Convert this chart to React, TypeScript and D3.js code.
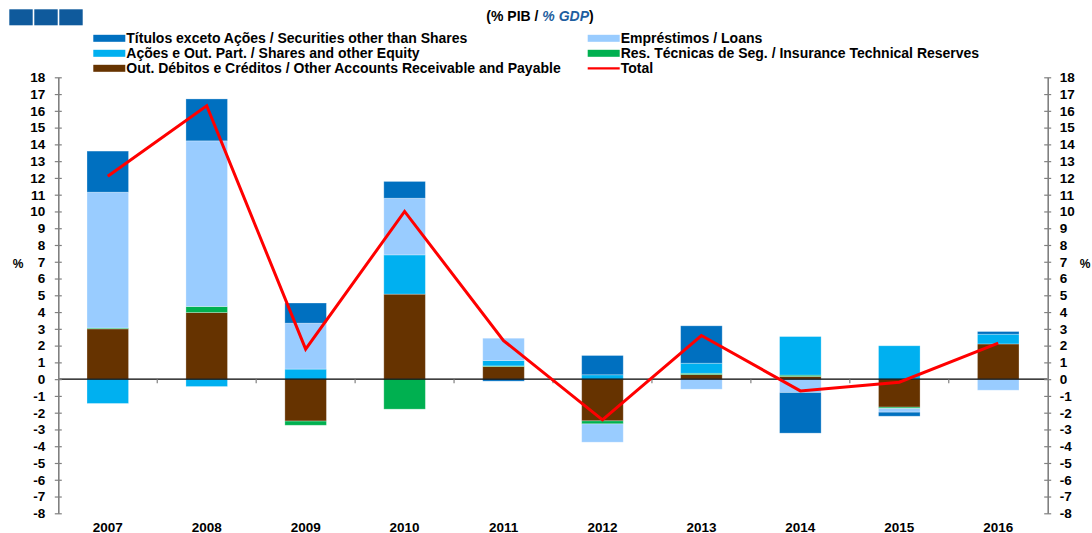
import * as d3 from "d3";
import {useEffect, useRef} from "react";

// values in % of GDP
const years = ["2007", "2008", "2009", "2010", "2011", "2012", "2013", "2014", "2015", "2016"];
const securities = [2.45, 2.5, 1.2, 1.0, -0.12, 1.15, 2.23, -2.42, -0.24, 0.16];
const loans = [8.1, 9.88, 2.74, 3.38, 1.33, -1.09, -0.6, -0.8, -0.22, -0.66];
const shares = [-1.45, -0.44, 0.6, 2.34, 0.32, 0.26, 0.6, 2.3, 1.99, 0.58];
const insurance = [0.05, 0.36, -0.25, -1.79, 0.04, -0.18, 0.08, 0.08, -0.08, 0.0];
const otherAccounts = [3.0, 3.97, -2.5, 5.07, 0.75, -2.49, 0.27, 0.16, -1.67, 2.1];
const total = [12.1, 16.3, 1.79, 10.0, 2.3, -2.43, 2.6, -0.7, -0.18, 2.15];

const yTicks = d3.range(-8, 19);

const seriesInfo = [
    {key: "other", label: "Out. Débitos e Créditos / Other Accounts Receivable and Payable", color: "#663300", values: otherAccounts},
    {key: "insurance", label: "Res. Técnicas de Seg. / Insurance Technical Reserves", color: "#00B050", values: insurance},
    {key: "shares", label: "Ações e Out. Part. / Shares and other Equity", color: "#00B0F0", values: shares},
    {key: "loans", label: "Empréstimos / Loans", color: "#99CCFF", values: loans},
    {key: "securities", label: "Títulos exceto Ações / Securities other than Shares", color: "#0070C0", values: securities},
];

// legend layout: two columns, three rows
const legendOrder = [
    ["securities", "loans"],
    ["shares", "insurance"],
    ["other", "total"],
];

const FONT = "'Liberation Sans', Arial, sans-serif";

const App = () => {
    const chartRef = useRef(null);

    const width = 1092;
    const height = 533;
    const margin = {left: 58.3, right: 1092 - 1047.7, top: 77.3, bottom: 533 - 513.3};

    useEffect(() => {
        const svg = d3.select(chartRef.current);
        svg.selectAll("*").remove();

        const scaleX = d3.scaleBand()
            .domain(years)
            .range([margin.left, width - margin.right])
            .padding(0);

        const scaleY = d3.scaleLinear()
            .domain([-8, 18])
            .range([height - margin.bottom, margin.top]);

        const table = years.map((y, i) => {
            const row: any = {year: y};
            seriesInfo.forEach(s => row[s.key] = s.values[i]);
            return row;
        });

        const stacked = d3.stack()
            .keys(seriesInfo.map(s => s.key))
            .offset(d3.stackOffsetDiverging)(table);

        const barW = scaleX.bandwidth() * 0.42;

        // header squares
        const squares = svg.append("g");
        [0, 1, 2].forEach(i => {
            squares.append("rect")
                .attr("x", 9.3 + i * 25)
                .attr("y", 9.3)
                .attr("width", 23.4)
                .attr("height", 16)
                .style("fill", "#0F5A9C");
        });

        const title = svg.append("text")
            .attr("x", 540)
            .attr("y", 20.5)
            .attr("text-anchor", "middle")
            .style("font-family", FONT)
            .style("font-weight", "bold")
            .style("font-size", "14px");
        title.append("tspan").text("(% PIB / ");
        title.append("tspan").text("% GDP").style("fill", "#1F5FA0").style("font-style", "italic");
        title.append("tspan").text(")");

        // bars
        stacked.forEach((layer, li) => {
            svg.append("g")
                .selectAll("rect")
                .data(layer)
                .enter()
                .append("rect")
                .attr("x", (d: any) => scaleX(d.data.year) + (scaleX.bandwidth() - barW) / 2)
                .attr("y", d => scaleY(Math.max(d[0], d[1])))
                .attr("width", barW)
                .attr("height", d => Math.abs(scaleY(d[0]) - scaleY(d[1])))
                .style("fill", seriesInfo[li].color)
                .style("stroke", "#ffffff")
                .style("stroke-opacity", 0.35)
                .style("stroke-width", 0.8);
        });

        // zero line
        svg.append("line")
            .attr("x1", margin.left)
            .attr("x2", width - margin.right)
            .attr("y1", scaleY(0))
            .attr("y2", scaleY(0))
            .style("stroke", "#000")
            .style("stroke-width", 1.3);

        // category ticks along zero line
        svg.append("g")
            .selectAll("line")
            .data(years.slice(1))
            .enter()
            .append("line")
            .attr("x1", d => scaleX(d))
            .attr("x2", d => scaleX(d))
            .attr("y1", scaleY(0))
            .attr("y2", scaleY(0) + 4)
            .style("stroke", "#808080")
            .style("stroke-width", 1.2);

        // category labels
        svg.append("g")
            .selectAll("text")
            .data(years)
            .enter()
            .append("text")
            .attr("x", d => scaleX(d) + scaleX.bandwidth() / 2)
            .attr("y", 531.5)
            .attr("text-anchor", "middle")
            .style("font-family", FONT)
            .style("font-weight", "bold")
            .style("font-size", "13.5px")
            .text(d => d);

        // y axes
        const styleAxis = (g, side) => {
            g.select(".domain").style("stroke", "#808080").style("stroke-width", 1.6);
            g.selectAll(".tick line")
                .attr("x1", -3.5)
                .attr("x2", 3.5)
                .style("stroke", "#808080")
                .style("stroke-width", 1.2);
            g.selectAll(".tick text")
                .style("font-family", FONT)
                .style("font-weight", "bold")
                .style("font-size", "13.5px")
                .style("fill", "#000")
                .attr("x", side === "left" ? -13 : 12);
        };

        const yLeft = d3.axisLeft(scaleY).tickValues(yTicks).tickSizeOuter(0).tickFormat(d => String(d));
        svg.append("g")
            .attr("transform", `translate(${margin.left}, 0)`)
            .call(yLeft)
            .call(g => styleAxis(g, "left"));

        const yRight = d3.axisRight(scaleY).tickValues(yTicks).tickSizeOuter(0).tickFormat(d => String(d));
        svg.append("g")
            .attr("transform", `translate(${width - margin.right}, 0)`)
            .call(yRight)
            .call(g => styleAxis(g, "right"));

        // % labels
        [18, 1085].forEach(x => {
            svg.append("text")
                .attr("x", x)
                .attr("y", 268)
                .attr("text-anchor", "middle")
                .style("font-family", FONT)
                .style("font-weight", "bold")
                .style("font-size", "12px")
                .text("%");
        });

        // total line
        const line = d3.line<number>()
            .x((d, i) => scaleX(years[i]) + scaleX.bandwidth() / 2)
            .y(d => scaleY(d));

        svg.append("path")
            .datum(total)
            .attr("d", line)
            .style("fill", "none")
            .style("stroke", "#FF0000")
            .style("stroke-width", 3)
            .style("stroke-linejoin", "miter");

        // legend
        const colX = [93.3, 587.7];
        const rowY = [38.3, 53.3, 68.3];
        const legend = svg.append("g");
        legendOrder.forEach((row, ri) => {
            row.forEach((key, ci) => {
                const x = colX[ci];
                const y = rowY[ri];
                if (key === "total") {
                    legend.append("line")
                        .attr("x1", x).attr("x2", x + 32)
                        .attr("y1", y).attr("y2", y)
                        .style("stroke", "#FF0000")
                        .style("stroke-width", 2.2);
                } else {
                    const s = seriesInfo.find(si => si.key === key);
                    legend.append("rect")
                        .attr("x", x).attr("y", y - 3.5)
                        .attr("width", 32).attr("height", 7)
                        .style("fill", s.color);
                }
                legend.append("text")
                    .attr("x", x + 33)
                    .attr("y", y + 5)
                    .style("font-family", FONT)
                    .style("font-weight", "bold")
                    .style("font-size", "14px")
                    .text(key === "total" ? "Total" : seriesInfo.find(si => si.key === key).label);
            });
        });
    }, []);

    return (
        <svg ref={chartRef} width={width} height={height}
             style={{position: "absolute", left: 0, top: 0, background: "#fff"}}></svg>
    );
};

export default App;
